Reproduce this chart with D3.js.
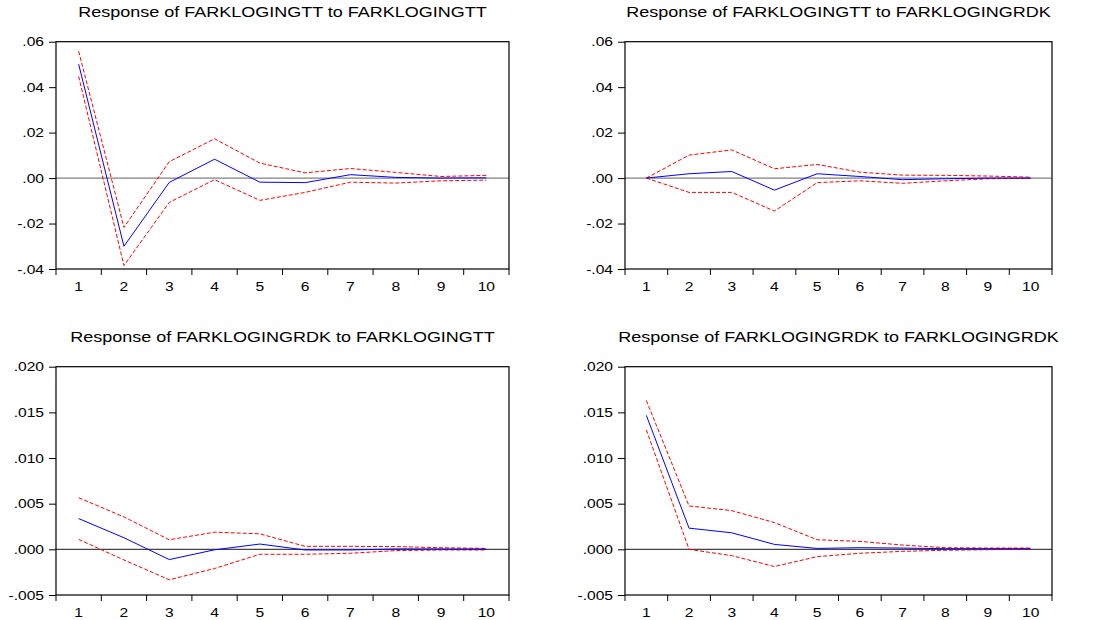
<!DOCTYPE html>
<html>
<head>
<meta charset="utf-8">
<script src="https://cdn.jsdelivr.net/npm/d3@7"></script>
<style>
  html, body { margin: 0; padding: 0; background: #fff; }
  svg { display: block; }
  text { font-family: Arial, "Liberation Sans", sans-serif; fill: #000; }
</style>
</head>
<body>
<svg id="chart" width="1113" height="620"></svg>
<script>
// ---- Data ----
const periods = [1, 2, 3, 4, 5, 6, 7, 8, 9, 10];

const titles = [
  "Response of FARKLOGINGTT to FARKLOGINGTT",
  "Response of FARKLOGINGTT to FARKLOGINGRDK",
  "Response of FARKLOGINGRDK to FARKLOGINGTT",
  "Response of FARKLOGINGRDK to FARKLOGINGRDK"
];

// Panel 1: FARKLOGINGTT -> FARKLOGINGTT
const p1Resp  = [0.0501, -0.0300, -0.0019, 0.0083, -0.0018, -0.0020, 0.0015, 0.0003, 0.0000, 0.0001];
const p1Upper = [0.0558, -0.0217, 0.0072, 0.0173, 0.0066, 0.0023, 0.0042, 0.0025, 0.0007, 0.0012];
const p1Lower = [0.0447, -0.0385, -0.0107, -0.0007, -0.0098, -0.0063, -0.0018, -0.0022, -0.0012, -0.0009];

// Panel 2: FARKLOGINGTT -> FARKLOGINGRDK
const p2Resp  = [0.0000, 0.0019, 0.0029, -0.0053, 0.0019, 0.0007, -0.0007, -0.0003, 0.0000, 0.0000];
const p2Upper = [0.0000, 0.0101, 0.0124, 0.0041, 0.0060, 0.0026, 0.0013, 0.0012, 0.0009, 0.0004];
const p2Lower = [0.0000, -0.0063, -0.0063, -0.0145, -0.0020, -0.0012, -0.0023, -0.0012, -0.0003, -0.0001];

// Panel 3: FARKLOGINGRDK -> FARKLOGINGTT
const p3Resp  = [0.00337, 0.00127, -0.00112, -0.00005, 0.00058, -0.00007, -0.00007, 0.00004, 0.00004, 0.00003];
const p3Upper = [0.00565, 0.00355, 0.00105, 0.00188, 0.00170, 0.00033, 0.00033, 0.00030, 0.00018, 0.00010];
const p3Lower = [0.00109, -0.00116, -0.00333, -0.00210, -0.00054, -0.00054, -0.00043, -0.00014, -0.00007, -0.00007];

// Panel 4: FARKLOGINGRDK -> FARKLOGINGRDK
const p4Resp  = [0.01467, 0.00232, 0.00181, 0.00054, 0.00010, 0.00018, 0.00014, 0.00007, 0.00007, 0.00007];
const p4Upper = [0.01630, 0.00475, 0.00424, 0.00293, 0.00105, 0.00087, 0.00047, 0.00018, 0.00014, 0.00014];
const p4Lower = [0.01308, 0.00000, -0.00069, -0.00188, -0.00080, -0.00043, -0.00022, -0.00010, -0.00004, 0.00000];

// Y tick values / labels
const topTicks = [-0.04, -0.02, 0.00, 0.02, 0.04, 0.06];
const topTickLabels = ["-.04", "-.02", ".00", ".02", ".04", ".06"];
const botTicks = [-0.005, 0.000, 0.005, 0.010, 0.015, 0.020];
const botTickLabels = ["-.005", ".000", ".005", ".010", ".015", ".020"];

const topDomain = [-0.04, 0.06];
const botDomain = [-0.005, 0.020];

// ---- Layout ----
const STRETCH = 1.2; // reference text is horizontally wide
const panels = [
  { title: titles[0], resp: p1Resp, up: p1Upper, lo: p1Lower, domain: topDomain, ticks: topTicks, labels: topTickLabels,
    left: 56, right: 509, top: 41.7, bottom: 269, titleY: 16.7, zero: "#808080" },
  { title: titles[1], resp: p2Resp, up: p2Upper, lo: p2Lower, domain: topDomain, ticks: topTicks, labels: topTickLabels,
    left: 625, right: 1052, top: 41.7, bottom: 269, titleY: 16.7, zero: "#808080" },
  { title: titles[2], resp: p3Resp, up: p3Upper, lo: p3Lower, domain: botDomain, ticks: botTicks, labels: botTickLabels,
    left: 56, right: 509, top: 366.7, bottom: 595, titleY: 341.7, zero: "#444444" },
  { title: titles[3], resp: p4Resp, up: p4Upper, lo: p4Lower, domain: botDomain, ticks: botTicks, labels: botTickLabels,
    left: 625, right: 1052, top: 366.7, bottom: 595, titleY: 341.7, zero: "#444444" }
];

const svg = d3.select("#chart");

function stretchText(sel) {
  sel.each(function() {
    const t = d3.select(this);
    const x0 = +t.attr("x") || 0;
    const y0 = +t.attr("y") || 0;
    t.attr("x", 0).attr("y", 0)
     .attr("transform", `translate(${x0},${y0}) scale(${STRETCH},1)`);
  });
}

panels.forEach(p => {
  const g = svg.append("g");
  const x = d3.scaleBand().domain(periods).range([p.left, p.right]).padding(0);
  const y = d3.scaleLinear().domain(p.domain).range([p.bottom, p.top]);
  const cx = d => x(d) + x.bandwidth() / 2;

  // title
  g.append("text")
    .attr("x", (p.left + p.right) / 2)
    .attr("y", p.titleY)
    .attr("text-anchor", "middle")
    .style("font-size", "15px")
    .text(p.title)
    .call(stretchText);

  // zero line
  g.append("line")
    .attr("x1", p.left).attr("x2", p.right)
    .attr("y1", y(0)).attr("y2", y(0))
    .attr("stroke", p.zero).attr("stroke-width", 1.3);

  const line = d3.line().x((d, i) => cx(periods[i])).y(d => y(d));

  // confidence bands
  [p.up, p.lo].forEach(arr => {
    g.append("path")
      .attr("d", line(arr))
      .attr("fill", "none")
      .attr("stroke", "#ff0000")
      .attr("stroke-width", 1)
      .attr("stroke-dasharray", "4,2");
  });

  // response
  g.append("path")
    .attr("d", line(p.resp))
    .attr("fill", "none")
    .attr("stroke", "#0000ff")
    .attr("stroke-width", 1);

  // frame
  g.append("rect")
    .attr("x", p.left).attr("y", p.top)
    .attr("width", p.right - p.left).attr("height", p.bottom - p.top)
    .attr("fill", "none").attr("stroke", "#000").attr("stroke-width", 1.2);

  // y axis
  const yAxis = d3.axisLeft(y)
    .tickValues(p.ticks)
    .tickFormat((d, i) => p.labels[i])
    .tickSizeInner(7).tickSizeOuter(0).tickPadding(5);
  const ya = g.append("g").attr("transform", `translate(${p.left},0)`).call(yAxis);
  ya.select(".domain").remove();
  ya.selectAll("text").style("font-size", "13px").style("font-family", 'Arial, "Liberation Sans", sans-serif')
    .call(stretchText);
  ya.selectAll("line").attr("stroke", "#000");

  // x axis: boundary ticks + centered labels
  const bounds = periods.map(d => x(d)).concat([p.right]);
  g.selectAll(".xt").data(bounds).enter().append("line")
    .attr("x1", d => d).attr("x2", d => d)
    .attr("y1", p.bottom).attr("y2", p.bottom + 6)
    .attr("stroke", "#000").attr("stroke-width", 1);
  const xAxis = d3.axisBottom(x).tickSize(0).tickPadding(13);
  const xa = g.append("g").attr("transform", `translate(0,${p.bottom})`).call(xAxis);
  xa.select(".domain").remove();
  xa.selectAll("text").style("font-size", "13px").style("font-family", 'Arial, "Liberation Sans", sans-serif')
    .call(stretchText);
});
</script>
</body>
</html>
